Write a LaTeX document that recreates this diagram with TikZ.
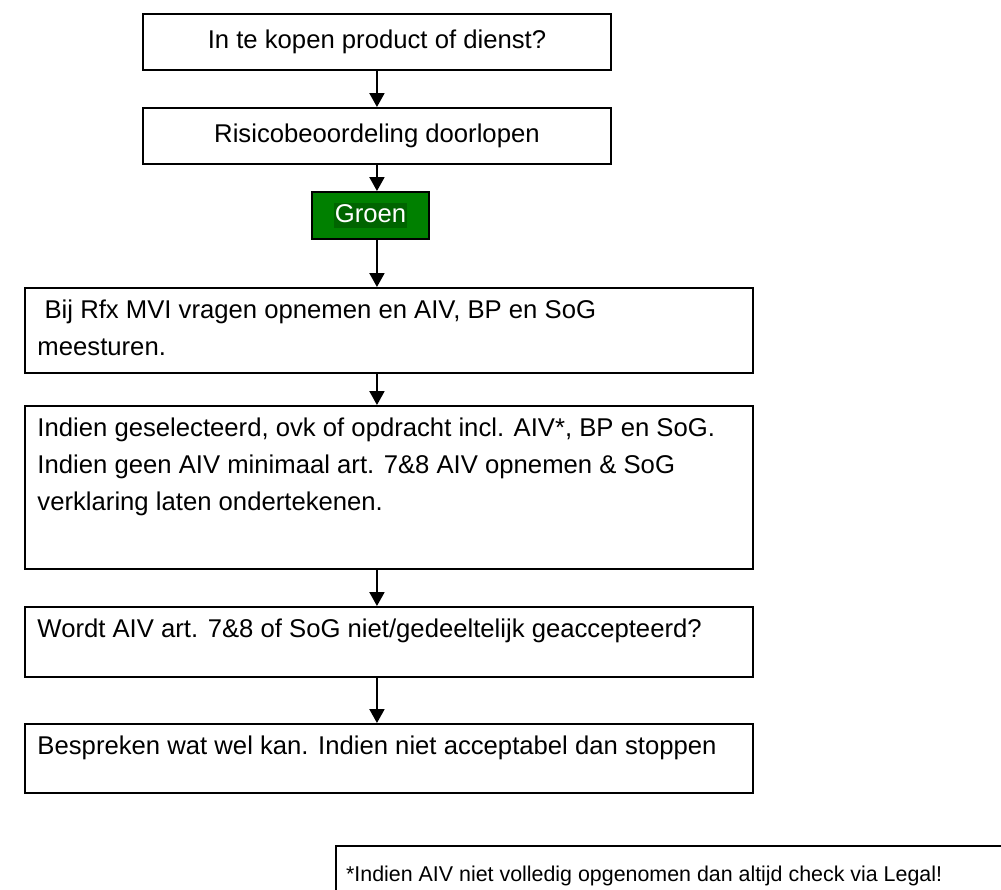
\documentclass[tikz,border=0pt]{standalone}
\usepackage{fontspec}
\setmainfont{Liberation Sans}
\usetikzlibrary{arrows.meta}
\definecolor{groen}{RGB}{0,128,0}
\definecolor{groendonker}{RGB}{0,100,0}
\begin{document}
\begin{tikzpicture}[x=0.4673pt,y=-0.4673pt,
  box/.style={draw=black,line width=0.9pt,rectangle,inner sep=0pt,anchor=north west,font=\fontsize{12}{17.3}\selectfont},
  txt/.style={inner sep=0pt,anchor=north west,align=left,font=\fontsize{12}{17.3}\selectfont},
  pijl/.style={line width=0.9pt,-{Triangle[length=6.5pt,width=7pt]}}]
\useasboundingbox (0,0) rectangle (1001,890);
\clip (0,0) rectangle (1001,890);
\node[box,minimum width=218.7pt,minimum height=26.2pt] (vraag) at (142,13) {In te kopen product of dienst?};
\node[box,minimum width=218.7pt,minimum height=26.2pt] (risico) at (142,107) {Risicobeoordeling doorlopen};
\node[box,fill=groen,text=white,minimum width=54.7pt,minimum height=22pt] (groen) at (311,191) {\setlength{\fboxsep}{0.5pt}\colorbox{groendonker}{\rule[-2.3pt]{0pt}{9.6pt}Groen}};
\node[box,minimum width=340.2pt,minimum height=39.7pt] (rfx) at (24,287) {};
\node[txt] (rfxtekst) at ([xshift=6.1pt,yshift=-5.9pt]rfx.north west) {\ Bij Rfx MVI vragen opnemen en AIV, BP en SoG\\meesturen.};
\node[box,minimum width=340.2pt,minimum height=76.2pt] (aiv) at (24,405) {};
\node[txt] (aivtekst) at ([xshift=6.1pt,yshift=-5.9pt]aiv.north west) {Indien geselecteerd, ovk of opdracht incl. AIV*, BP en SoG.\\Indien geen AIV minimaal art. 7\&8 AIV opnemen \& SoG\\verklaring laten ondertekenen.};
\node[box,minimum width=340.2pt,minimum height=32.7pt] (akkoord) at (24,606) {};
\node[txt] (akkoordtekst) at ([xshift=6.1pt,yshift=-5.9pt]akkoord.north west) {Wordt AIV art. 7\&8 of SoG niet/gedeeltelijk geaccepteerd?};
\node[box,minimum width=340.2pt,minimum height=32.2pt] (stoppen) at (24,723) {};
\node[txt] (stoppentekst) at ([xshift=6.1pt,yshift=-5.9pt]stoppen.north west) {Bespreken wat wel kan. Indien niet acceptabel dan stoppen};
\node[box,minimum width=400pt,minimum height=40pt] (notitie) at (335,845) {};
\node[txt,font=\fontsize{10}{12}\selectfont] (notitietekst) at ([xshift=5pt,yshift=-9.4pt]notitie.north west) {*Indien AIV niet volledig opgenomen dan altijd check via Legal!};
\draw[pijl] (vraag.south) -- (risico.north);
\draw[pijl] (risico.south) -- (risico.south |- groen.north);
\draw[pijl] (risico.south |- groen.south) -- (risico.south |- rfx.north);
\draw[pijl] (rfx.south -| risico.south) -- (risico.south |- aiv.north);
\draw[pijl] (aiv.south -| risico.south) -- (risico.south |- akkoord.north);
\draw[pijl] (akkoord.south -| risico.south) -- (risico.south |- stoppen.north);
\end{tikzpicture}
\end{document}
